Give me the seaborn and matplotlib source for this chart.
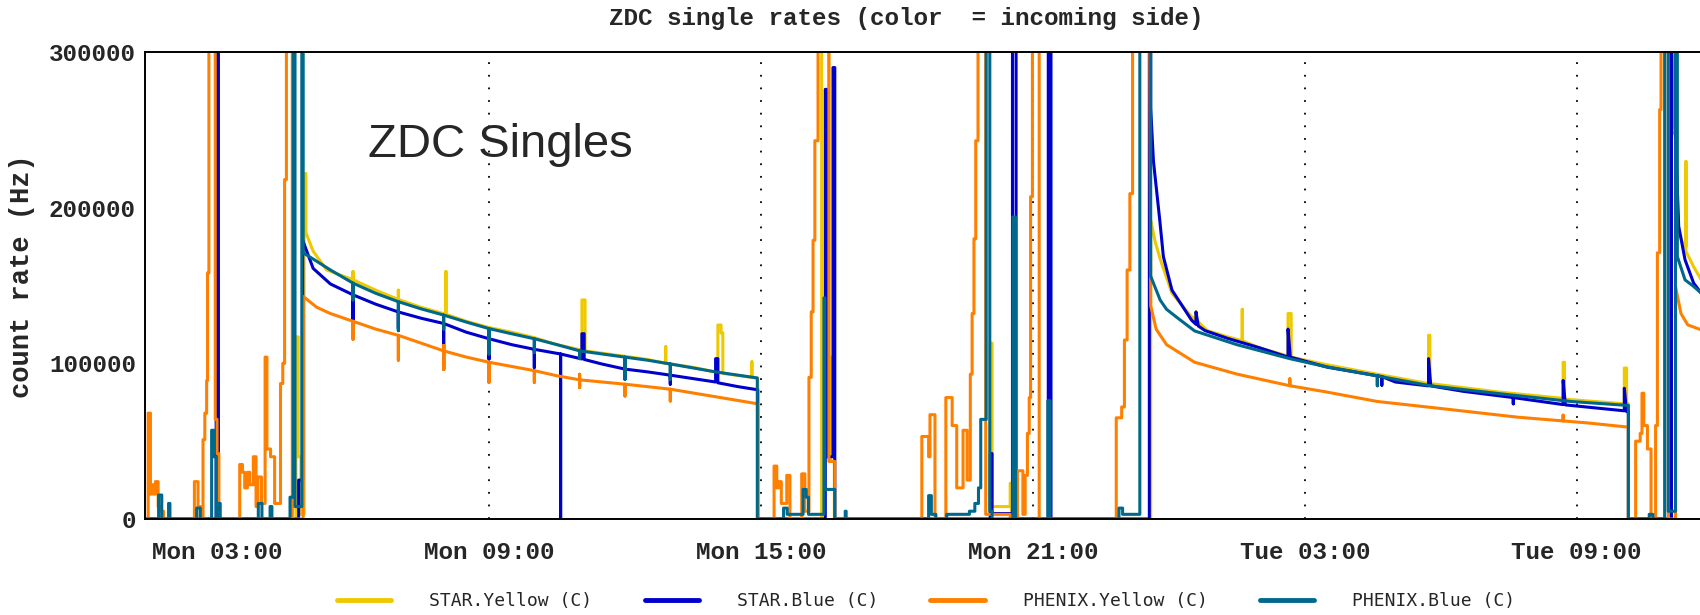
import pandas as pd
import seaborn as sns
import matplotlib
matplotlib.use("Agg")
import matplotlib.pyplot as plt

# hours since Monday 00:00, count rate (Hz); 320000 = off scale
star_yellow = [
    (1.41, 0), (4.74, 0), (4.74, 117000), (4.79, 117000), (4.79, 40000), (4.85, 40000), (4.85, 3000), (4.92, 3000),
    (4.92, 222000), (4.96, 222000), (4.96, 184000), (5.12, 172000), (5.42, 160000),
    (6.0, 153700), (6.0, 159000), (6.0, 153700), (6.5, 147000), (7.0, 141000), (7.0, 147000), (7.0, 141000),
    (7.5, 136000), (8.05, 131500), (8.05, 159000), (8.05, 131500), (8.5, 127000), (9.0, 123000),
    (9.5, 120000), (10.0, 116500), (10.5, 112000), (11.05, 108500), (11.05, 140700), (11.12, 140700),
    (11.12, 108000), (12.0, 104500), (12.5, 102500), (12.9, 100000), (12.9, 110700), (12.9, 100000),
    (13.5, 97500), (14.05, 94000), (14.05, 124600), (14.12, 124600), (14.12, 119500), (14.16, 119500),
    (14.16, 93500), (14.8, 91000), (14.8, 101000), (14.8, 91000), (14.93, 90500), (14.93, 0),
    (16.34, 0), (16.34, 320000), (16.50, 320000), (16.50, 104000), (16.54, 104000), (16.54, 37000),
    (16.62, 37000), (16.62, 0),
    (20.06, 0), (20.06, 113000), (20.10, 113000), (20.10, 8000), (20.50, 8000), (20.50, 23000),
    (20.53, 23000), (20.53, 0),
    (23.60, 0), (23.60, 192000), (23.70, 178000), (23.82, 166000), (24.07, 145000), (24.5, 130000),
    (24.6, 128000), (24.6, 133000), (24.6, 128000), (24.85, 121000), (25.3, 117000), (25.62, 114500),
    (25.62, 134700), (25.62, 114500), (26.0, 110000), (26.63, 104700), (26.63, 132000), (26.70, 132000),
    (26.70, 104000), (27.5, 99000), (28.6, 93000), (29.73, 87000), (29.73, 118000), (29.76, 118000),
    (29.76, 87000), (31.3, 81500), (32.7, 77500), (32.7, 100700), (32.73, 100700), (32.73, 77000),
    (34.05, 74000), (34.05, 97000), (34.10, 97000), (34.10, 74000), (34.14, 74000), (34.14, 0),
    (35.05, 0), (35.05, 248000), (35.20, 248000), (35.20, 190000), (35.36, 175000), (35.41, 175000),
    (35.41, 229700), (35.41, 172000), (35.58, 162000), (35.75, 153600),
]

star_blue = [
    (1.41, 0), (2.98, 0), (2.98, 320000), (3.03, 320000), (3.03, 0), (4.80, 0),
    (4.80, 25000), (4.89, 25000), (4.89, 179000), (5.12, 161000), (5.5, 151000),
    (6.0, 144000), (6.0, 127700), (6.0, 144000), (6.5, 138000), (7.0, 133000), (7.0, 122300), (7.0, 133000),
    (7.5, 129000), (8.0, 125600), (8.0, 96300), (8.0, 125600), (8.5, 120000), (9.0, 115800), (9.0, 102800),
    (9.0, 115800), (9.5, 112000), (10.0, 109000), (10.0, 97400), (10.0, 109000), (10.58, 106000),
    (10.58, 0), (10.58, 106000), (11.05, 102800), (11.05, 119000), (11.10, 119000), (11.10, 102500),
    (11.5, 99500), (12.0, 96300), (12.0, 89800), (12.0, 96300), (12.5, 94500), (13.0, 92400),
    (13.0, 86600), (13.0, 92400), (13.5, 90200), (14.0, 88000), (14.0, 103000), (14.05, 103000),
    (14.05, 87500), (14.5, 85000), (14.93, 83000), (14.93, 0),
    (16.42, 0), (16.42, 276000), (16.45, 276000), (16.45, 40000), (16.59, 40000), (16.59, 290000),
    (16.63, 290000), (16.63, 0),
    (20.06, 0), (20.06, 42000), (20.10, 42000), (20.10, 3500), (20.55, 3500), (20.55, 320000),
    (20.63, 320000), (20.63, 0),
    (21.34, 0), (21.34, 320000), (21.40, 320000), (21.40, 0),
    (23.57, 0), (23.57, 320000), (23.60, 320000), (23.60, 264000), (23.66, 230000), (23.73, 211000),
    (23.80, 192000), (23.88, 168500), (24.07, 147000), (24.5, 127800), (24.6, 125000), (24.6, 133000),
    (24.65, 124000), (24.8, 121000), (25.3, 116000), (26.0, 110000), (26.63, 104000), (26.63, 122000),
    (26.68, 104000), (27.5, 97500), (28.7, 91500), (28.7, 86000), (28.7, 91500), (29.0, 88000),
    (29.73, 85500), (29.73, 103000), (29.78, 85500), (30.5, 82000), (31.6, 78000), (31.6, 74000),
    (31.6, 78000), (32.7, 73500), (32.7, 89000), (32.75, 73300), (34.05, 69500), (34.05, 84000),
    (34.10, 69000), (34.14, 69000), (34.14, 0),
    (35.09, 0), (35.09, 320000), (35.17, 320000), (35.17, 252000), (35.25, 188000), (35.39, 166500),
    (35.58, 151500), (35.75, 145000),
]

phenix_yellow = [
    (1.41, 0), (1.48, 0), (1.48, 68000), (1.53, 68000), (1.53, 16000), (1.57, 16000), (1.57, 22000),
    (1.61, 22000), (1.61, 16000), (1.64, 16000), (1.64, 24000), (1.70, 24000), (1.70, 8000),
    (1.76, 8000), (1.76, 5000), (1.82, 5000), (1.82, 0),
    (2.50, 0), (2.50, 24000), (2.58, 24000), (2.58, 8000), (2.63, 8000), (2.63, 0), (2.69, 0),
    (2.69, 51000), (2.73, 51000), (2.73, 68000), (2.77, 68000), (2.77, 89000), (2.79, 89000),
    (2.79, 158000), (2.82, 158000), (2.82, 320000), (2.96, 320000), (2.96, 64000), (3.00, 64000),
    (3.00, 42000), (3.04, 42000), (3.04, 0),
    (3.50, 0), (3.50, 35000), (3.56, 35000), (3.56, 30000), (3.61, 30000), (3.61, 20000),
    (3.67, 20000), (3.67, 30000), (3.72, 30000), (3.72, 22000), (3.80, 22000), (3.80, 40000),
    (3.86, 40000), (3.86, 8000), (3.90, 8000), (3.90, 27000), (3.98, 27000), (3.98, 10000),
    (4.06, 10000), (4.06, 104000), (4.10, 104000), (4.10, 45000), (4.18, 45000), (4.18, 40000),
    (4.27, 40000), (4.27, 10000), (4.40, 10000), (4.40, 87000), (4.45, 87000), (4.45, 100000),
    (4.49, 100000), (4.49, 218000), (4.53, 218000), (4.53, 320000), (4.66, 320000), (4.66, 0),
    (4.90, 0), (4.90, 143000), (5.2, 136000), (5.5, 132000),
    (6.0, 127000), (6.0, 115400), (6.0, 127000), (6.5, 122000), (7.0, 118000), (7.0, 102000),
    (7.0, 118000), (7.5, 113000), (8.0, 108000), (8.0, 96000), (8.0, 111500), (8.0, 108000),
    (8.5, 104000), (9.0, 100700), (9.0, 87700), (9.0, 100700), (9.5, 98000), (10.0, 95300),
    (10.0, 87700), (10.0, 95300), (10.5, 92000), (11.0, 89400), (11.0, 84400), (11.0, 93000),
    (11.0, 89400), (11.5, 88000), (12.0, 86600), (12.0, 79000), (12.0, 86600), (12.5, 85000),
    (13.0, 83400), (13.0, 75800), (13.0, 83400), (14.0, 78500), (14.93, 74000), (14.93, 0),
    (15.29, 0), (15.29, 34000), (15.35, 34000), (15.35, 20000), (15.40, 20000), (15.40, 24000),
    (15.45, 24000), (15.45, 10000), (15.57, 10000), (15.57, 28000), (15.64, 28000), (15.64, 0),
    (15.90, 0), (15.90, 29000), (15.97, 29000), (15.97, 5000), (16.06, 5000), (16.06, 91000),
    (16.11, 91000), (16.11, 133000), (16.15, 133000), (16.15, 179000), (16.19, 179000),
    (16.19, 243000), (16.26, 243000), (16.26, 320000), (16.50, 320000), (16.50, 37000),
    (16.63, 37000), (16.63, 0),
    (18.55, 0), (18.55, 53000), (18.70, 53000), (18.70, 40000), (18.73, 40000), (18.73, 67000),
    (18.84, 67000), (18.84, 0), (19.08, 0), (19.08, 78000), (19.22, 78000), (19.22, 60000),
    (19.32, 60000), (19.32, 20000), (19.46, 20000), (19.46, 57000), (19.55, 57000), (19.55, 25000),
    (19.62, 25000), (19.62, 93000), (19.66, 93000), (19.66, 132000), (19.70, 132000),
    (19.70, 180000), (19.74, 180000), (19.74, 243000), (19.79, 243000), (19.79, 320000),
    (19.96, 320000), (19.96, 3000), (20.50, 3000), (20.50, 0), (20.66, 0), (20.66, 31000),
    (20.78, 31000), (20.78, 3000), (20.83, 3000), (20.83, 28000), (20.88, 28000), (20.88, 55000),
    (20.92, 55000), (20.92, 78000), (20.95, 78000), (20.95, 207000), (20.99, 207000),
    (20.99, 320000), (21.14, 320000), (21.14, 0),
    (22.84, 0), (22.84, 65000), (22.96, 65000), (22.96, 72000), (23.02, 72000), (23.02, 115000),
    (23.08, 115000), (23.08, 160000), (23.14, 160000), (23.14, 209000), (23.20, 209000),
    (23.20, 320000), (23.58, 320000), (23.60, 137000), (23.72, 122000),
    (23.95, 112000), (24.57, 100700), (25.5, 93100), (26.67, 85600), (26.67, 90000), (26.67, 85600),
    (27.44, 81800), (28.6, 75500), (30.15, 70500), (31.7, 65400), (32.7, 63000), (32.7, 66700),
    (32.7, 63000), (33.25, 61700), (34.14, 59000), (34.14, 0),
    (34.30, 0), (34.30, 50000), (34.40, 50000), (34.40, 55000), (34.44, 55000), (34.44, 80800),
    (34.48, 80800), (34.48, 60000), (34.56, 60000), (34.56, 45000), (34.64, 45000), (34.64, 0),
    (34.74, 0), (34.74, 60000), (34.78, 60000), (34.78, 171000), (34.83, 171000), (34.83, 263000),
    (34.86, 263000), (34.86, 320000), (35.02, 320000), (35.02, 0), (35.18, 0), (35.18, 149400),
    (35.30, 132000), (35.45, 124700), (35.75, 121500),
]

phenix_blue = [
    (1.41, 0), (1.71, 0), (1.71, 15400), (1.78, 15400), (1.78, 0), (1.93, 0), (1.93, 10000),
    (1.96, 10000), (1.96, 0), (2.55, 0), (2.55, 7000), (2.63, 7000), (2.63, 0), (2.88, 0),
    (2.88, 57000), (2.93, 57000), (2.93, 40000), (2.98, 40000), (2.98, 0), (3.03, 0), (3.03, 10000),
    (3.07, 10000), (3.07, 0), (3.91, 0), (3.91, 10000), (3.99, 10000), (3.99, 0), (4.17, 0),
    (4.17, 8000), (4.21, 8000), (4.21, 0), (4.61, 0), (4.61, 14000), (4.68, 14000), (4.68, 320000),
    (4.72, 320000), (4.72, 8000), (4.87, 8000), (4.87, 320000), (4.90, 320000), (4.90, 171000),
    (5.12, 167000), (5.5, 160000),
    (6.0, 151500), (6.0, 140700), (6.0, 151500), (6.5, 145000), (7.0, 139600), (7.0, 121000),
    (7.0, 139600), (7.5, 135000), (8.0, 131000), (8.0, 122000), (8.0, 131000), (8.5, 126500),
    (9.0, 122300), (9.0, 106000), (9.0, 122300), (9.5, 119000), (10.0, 115800), (10.0, 107000),
    (10.0, 115800), (10.5, 112000), (11.0, 108000), (11.0, 103000), (11.0, 108000), (11.5, 106000),
    (12.0, 104000), (12.0, 89800), (12.0, 104000), (12.5, 102000), (13.0, 99600), (13.0, 89800),
    (13.0, 99600), (14.0, 94500), (14.92, 90600), (14.92, 0),
    (15.50, 0), (15.50, 7000), (15.58, 7000), (15.58, 3000), (15.93, 3000), (15.93, 19000),
    (16.00, 19000), (16.00, 14000), (16.05, 14000), (16.05, 3000), (16.39, 3000), (16.39, 142000),
    (16.41, 142000), (16.41, 19000), (16.63, 19000), (16.63, 0), (16.86, 0), (16.86, 5000),
    (16.88, 5000), (16.88, 0),
    (18.70, 0), (18.70, 15000), (18.76, 15000), (18.76, 3000), (18.86, 3000), (18.86, 0),
    (19.10, 0), (19.10, 3000), (19.60, 3000), (19.60, 5000), (19.72, 5000), (19.72, 10000),
    (19.80, 10000), (19.80, 20000), (19.85, 20000), (19.85, 64000), (19.97, 64000), (19.97, 320000),
    (20.05, 320000), (20.05, 5000), (20.10, 5000), (20.10, 0), (20.56, 0), (20.56, 194000),
    (20.62, 194000), (20.62, 0), (21.33, 0), (21.33, 76000), (21.38, 76000), (21.38, 0),
    (22.90, 0), (22.90, 7000), (22.98, 7000), (22.98, 3000), (23.36, 3000), (23.36, 320000),
    (23.60, 320000), (23.60, 156000), (23.81, 140600), (23.95, 134700), (24.2, 129000),
    (24.57, 120800), (25.5, 112000), (26.67, 103000), (27.44, 98000), (28.6, 91900), (28.6, 85600),
    (28.6, 91900), (29.77, 85600), (31.3, 80500), (32.87, 75500), (34.1, 73000), (34.14, 73000),
    (34.14, 0),
    (34.60, 0), (34.60, 3000), (34.68, 3000), (34.68, 0), (34.94, 0), (34.94, 320000), (35.02, 320000),
    (35.02, 5000), (35.18, 5000), (35.18, 320000), (35.22, 320000), (35.22, 168600), (35.39, 153600),
    (35.58, 149400), (35.75, 145000),
]

series_names = ["STAR.Yellow (C)", "STAR.Blue (C)", "PHENIX.Yellow (C)", "PHENIX.Blue (C)"]
series_colors = ["#EEC900", "#0000CD", "#FF8000", "#00688B"]

tick_hours = [3, 9, 15, 21, 27, 33]
tick_labels = ["Mon 03:00", "Mon 09:00", "Mon 15:00", "Mon 21:00", "Tue 03:00", "Tue 09:00"]
minor_hours = [6, 12, 18, 24, 30]

rows = []
for name, pts in zip(series_names, [star_yellow, star_blue, phenix_yellow, phenix_blue]):
    for h, v in pts:
        rows.append((name, h, v))
df = pd.DataFrame(rows, columns=["series", "hour", "rate"])

sns.set_style("white")
mono = ["Liberation Mono", "DejaVu Sans Mono"]

fig = plt.figure(figsize=(17, 6.15), dpi=100)
ax = fig.add_axes([145 / 1700, 1 - 519 / 615, 1555 / 1700, 467 / 615])

for h in tick_hours:
    ax.axvline(h, color="black", lw=1.3, ls=(0, (1, 6)), zorder=0)

sns.lineplot(data=df, x="hour", y="rate", hue="series", hue_order=series_names,
             palette=series_colors, estimator=None, sort=False, linewidth=2.2, ax=ax)

ax.set_xlim(1.41, 35.72)
ax.set_ylim(0, 300000)
ax.set_xticks(tick_hours)
ax.set_xticklabels(tick_labels)
ax.set_xticks(minor_hours, minor=True)
ax.set_yticks([0, 100000, 200000, 300000])
ax.set_yticks([50000, 150000, 250000], minor=True)
ax.tick_params(axis="both", which="both", direction="inout", length=7, width=1.4, color="black")
ax.tick_params(axis="x", which="major", pad=12)
ax.tick_params(axis="y", which="major", pad=3)
for lab in ax.get_xticklabels() + ax.get_yticklabels():
    lab.set_fontfamily(mono)
    lab.set_fontweight("bold")
    lab.set_fontsize(17.5)

ax.set_xlabel("")
ax.set_ylabel("")
for side in ["left", "top", "bottom"]:
    ax.spines[side].set_color("black")
    ax.spines[side].set_linewidth(1.4)
ax.spines["right"].set_visible(False)

fig.text(906 / 1700, 1 - 18 / 615, "ZDC single rates (color  = incoming side)", ha="center",
         va="center", family=mono, fontweight="bold", fontsize=17.5)
fig.text(22 / 1700, 1 - 276 / 615, "count rate (Hz)", rotation=90, ha="center", va="center",
         family=mono, fontweight="bold", fontsize=19.5)
fig.text(368 / 1700, 1 - 157 / 615, "ZDC Singles", ha="left", va="baseline",
         family=["Liberation Sans", "DejaVu Sans"], fontsize=34)

sns.move_legend(ax, "center", bbox_to_anchor=(926 / 1700, 1 - 601 / 615),
                bbox_transform=fig.transFigure, ncol=4, frameon=False, title=None,
                prop={"family": "DejaVu Sans Mono", "size": 13},
                handlelength=3.0, handletextpad=2.1, columnspacing=2.9)
for line in ax.get_legend().get_lines():
    line.set_linewidth(3.5)

fig.savefig("out.png", dpi=100)
